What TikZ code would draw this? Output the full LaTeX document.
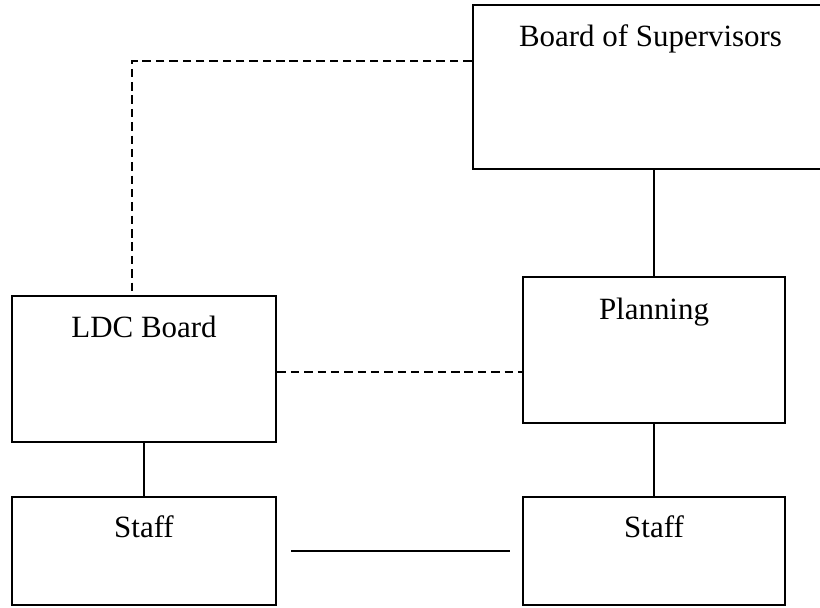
\documentclass[tikz,border=0pt]{standalone}
\usepackage{fontspec}
\setmainfont{Liberation Serif}
\begin{document}
\begin{tikzpicture}[
      x=0.025cm, y=-0.025cm,
      box/.style={draw, line width=2pt, rectangle, inner sep=0pt,
        font=\fontsize{22}{26}\selectfont},
      dashlink/.style={line width=1.3pt, dash pattern=on 6pt off 3.5pt},
      link/.style={line width=1.2pt},
    ]
    \useasboundingbox (0,0) rectangle (820,607);
    \node[box, minimum width=8.875cm, text height=1.05cm, text depth=3.05cm]
      (bos) at (650.5,87) {Board of Supervisors};
    \node[box, minimum width=6.6cm, text height=1.025cm, text depth=2.625cm]
      (ldc) at (144,369) {LDC Board};
    \node[box, minimum width=6.55cm, text height=1.05cm, text depth=2.6cm]
      (plan) at (654,350) {Planning};
    \node[box, minimum width=6.6cm, text height=1cm, text depth=1.7cm]
      (staffl) at (144,551) {Staff};
    \node[box, minimum width=6.55cm, text height=1cm, text depth=1.7cm]
      (staffr) at (654,551) {Staff};
    \draw[dashlink] ([yshift=0.65cm]bos.west) -| ([xshift=-0.3cm]ldc.north);
    \draw[dashlink] ([yshift=-0.075cm]ldc.east) -- ([yshift=-0.075cm]ldc.east -| plan.west);
    \draw[link] (bos.south -| plan.north) -- (plan.north);
    \draw[link] (ldc.south) -- (staffl.north);
    \draw[link] (plan.south) -- (staffr.north);
    \draw[line width=1.8pt, shorten <=0.35cm, shorten >=0.28cm]
      (staffl.east) -- (staffr.west);
\end{tikzpicture}
\end{document}
